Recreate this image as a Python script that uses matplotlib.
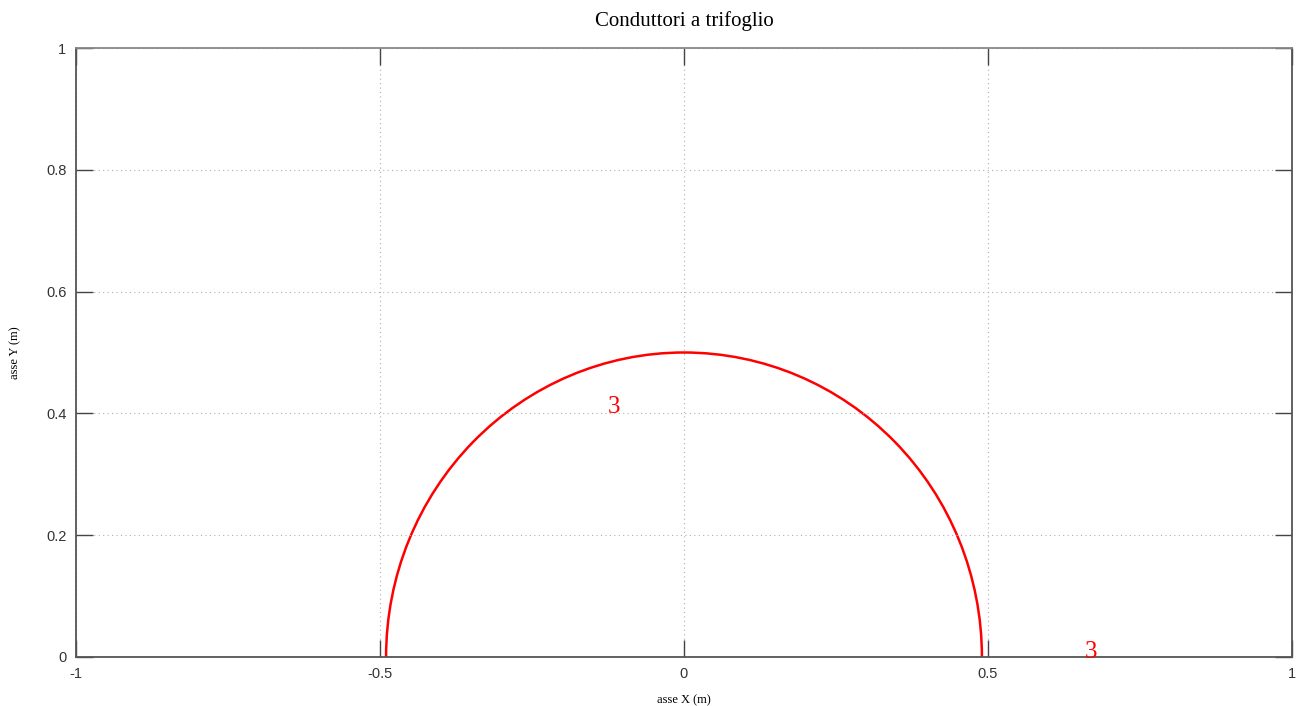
import matplotlib.pyplot as plt
from matplotlib.patches import Arc

# semicerchio del conduttore (centro, semiassi)
centro = (0.0, 0.0)
semiasse_x = 0.49
semiasse_y = 0.50

# etichette dei conduttori
etichette = ["3", "3"]
etichette_x = [-0.115, 0.669]
etichette_y = [0.41, 0.008]

tick_x = [-1, -0.5, 0, 0.5, 1]
tick_y = [0, 0.2, 0.4, 0.6, 0.8, 1]

fig = plt.figure(figsize=(13.03, 7.06), dpi=100)
ax = fig.add_axes([76/1303, 1 - 657/706, (1292 - 76)/1303, (657 - 48)/706])

arco = Arc(centro, 2*semiasse_x, 2*semiasse_y, theta1=0, theta2=180,
           color='red', lw=1.8)
ax.add_patch(arco)

for t, x, y in zip(etichette, etichette_x, etichette_y):
    ax.text(x, y, t, color='red', fontsize=18, family='Liberation Serif',
            ha='center', va='center')

ax.set_xlim(-1, 1)
ax.set_ylim(0, 1)
ax.set_xticks(tick_x)
ax.set_yticks(tick_y)
ax.set_xticklabels(['-1', '-0.5', '0', '0.5', '1'])
ax.set_yticklabels(['0', '0.2', '0.4', '0.6', '0.8', '1'])
ax.grid(True, linestyle=(0, (1, 3)), color='#b0b0b0', lw=0.8)
ax.tick_params(direction='in', length=12, width=1, top=True, right=True,
               labelsize=10.5, colors='#444444', labelcolor='#333333', pad=7)
for tl in ax.get_xticklabels() + ax.get_yticklabels():
    tl.set_family('Liberation Sans')
for s in ax.spines.values():
    s.set_color('#555555')
    s.set_linewidth(1.3)
ax.spines['top'].set_color('#888888')

ax.set_title("Conduttori a trifoglio", family='Liberation Serif', fontsize=15, pad=16)
ax.set_xlabel("asse X (m)", family='Liberation Serif', fontsize=9, labelpad=10)
ax.set_ylabel("asse Y (m)", family='Liberation Serif', fontsize=9, labelpad=18)

fig.savefig("out.png", dpi=100)
